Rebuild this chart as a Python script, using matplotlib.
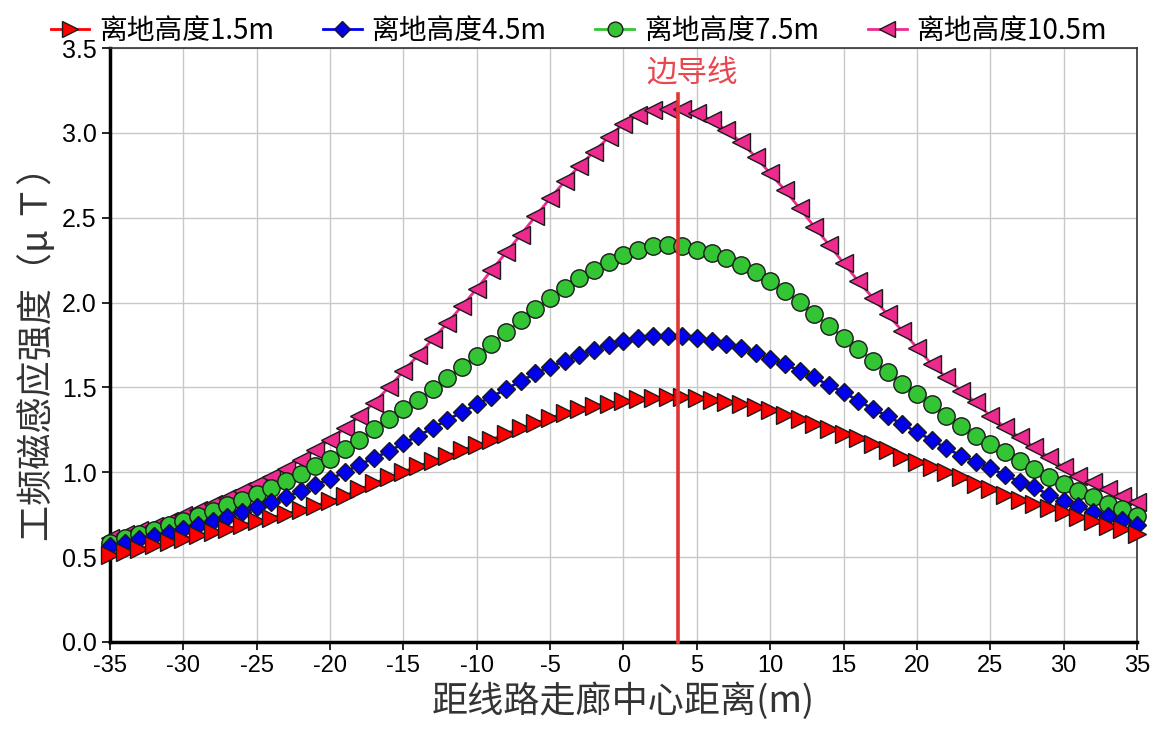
import matplotlib
matplotlib.use("Agg")
import matplotlib.pyplot as plt
import numpy as np

# ---------------- data ----------------
x_m = list(range(-35, 36))

h15 = [0.515, 0.532, 0.550, 0.569, 0.589, 0.609, 0.628, 0.648, 0.667, 0.688,
       0.710, 0.732, 0.755, 0.778, 0.803, 0.830, 0.860, 0.900, 0.935, 0.970,
       1.004, 1.036, 1.066, 1.098, 1.130, 1.160, 1.192, 1.228, 1.258, 1.290,
       1.320, 1.348, 1.373, 1.392, 1.405, 1.420, 1.432, 1.440, 1.443, 1.442,
       1.435, 1.425, 1.415, 1.403, 1.385, 1.365, 1.340, 1.312, 1.283, 1.255,
       1.228, 1.200, 1.165, 1.130, 1.090, 1.059, 1.029, 1.000, 0.971, 0.931,
       0.902, 0.867, 0.839, 0.814, 0.788, 0.765, 0.735, 0.710, 0.686, 0.667,
       0.637]

h45 = [0.565, 0.585, 0.605, 0.625, 0.645, 0.665, 0.688, 0.712, 0.738, 0.765,
       0.793, 0.823, 0.855, 0.889, 0.924, 0.961, 1.000, 1.045, 1.084, 1.123,
       1.170, 1.215, 1.260, 1.309, 1.355, 1.400, 1.445, 1.490, 1.537, 1.582,
       1.621, 1.658, 1.690, 1.722, 1.752, 1.772, 1.793, 1.803, 1.805, 1.803,
       1.793, 1.774, 1.754, 1.735, 1.705, 1.670, 1.637, 1.598, 1.559, 1.512,
       1.471, 1.422, 1.373, 1.330, 1.284, 1.235, 1.192, 1.141, 1.098, 1.063,
       1.024, 0.984, 0.945, 0.912, 0.867, 0.833, 0.800, 0.765, 0.742, 0.716,
       0.690]

h75 = [0.585, 0.610, 0.635, 0.660, 0.687, 0.714, 0.743, 0.773, 0.805, 0.838,
       0.873, 0.910, 0.950, 0.990, 1.035, 1.080, 1.135, 1.191, 1.254, 1.313,
       1.370, 1.428, 1.490, 1.553, 1.620, 1.688, 1.757, 1.826, 1.895, 1.962,
       2.025, 2.085, 2.142, 2.192, 2.237, 2.280, 2.312, 2.331, 2.337, 2.331,
       2.312, 2.292, 2.263, 2.224, 2.179, 2.126, 2.067, 2.003, 1.930, 1.862,
       1.794, 1.729, 1.656, 1.593, 1.520, 1.461, 1.402, 1.333, 1.275, 1.216,
       1.167, 1.118, 1.065, 1.020, 0.971, 0.931, 0.892, 0.853, 0.814, 0.784,
       0.745]

h105 = [0.610, 0.635, 0.660, 0.686, 0.713, 0.748, 0.780, 0.813, 0.848, 0.887,
        0.928, 0.972, 1.020, 1.072, 1.130, 1.192, 1.258, 1.330, 1.410, 1.500,
        1.595, 1.690, 1.785, 1.880, 1.980, 2.082, 2.190, 2.295, 2.400, 2.508,
        2.615, 2.714, 2.805, 2.890, 2.975, 3.055, 3.104, 3.133, 3.143, 3.143,
        3.119, 3.074, 3.016, 2.947, 2.859, 2.761, 2.663, 2.556, 2.448, 2.341,
        2.233, 2.126, 2.028, 1.930, 1.833, 1.735, 1.637, 1.559, 1.480, 1.412,
        1.333, 1.265, 1.206, 1.147, 1.088, 1.029, 0.980, 0.941, 0.902, 0.863,
        0.824]

labels = ["离地高度1.5m", "离地高度4.5m", "离地高度7.5m", "离地高度10.5m"]
x_ticks = [-35, -30, -25, -20, -15, -10, -5, 0, 5, 10, 15, 20, 25, 30, 35]
y_ticks = [0.0, 0.5, 1.0, 1.5, 2.0, 2.5, 3.0, 3.5]
side_conductor_x = 3.7
side_conductor_top = 3.23
side_label = "边导线"
x_label = "距线路走廊中心距离(m)"
y_label = "工频磁感应强度（μ Ｔ）"

# ---------------- style ----------------
CJK = ["Noto Sans CJK SC", "DejaVu Sans"]
plt.rcParams["font.family"] = CJK

fig = plt.figure(figsize=(11.64, 7.33), dpi=100)
ax = fig.add_axes([0.0945, 0.1242, 0.8823, 0.8103])

series = [
    (h15, "#ff0000", ">", 13, labels[0]),
    (h45, "#0000ee", "D", 9.5, labels[1]),
    (h75, "#33c533", "o", 12.5, labels[2]),
    (h105, "#ee2a8f", "<", 13, labels[3]),
]
handles = {}
z = {labels[3]: 3, labels[2]: 4, labels[1]: 5, labels[0]: 6}
for ys, col, mk, ms, lab in series:
    ln, = ax.plot(x_m, ys, color=col, lw=2.0, marker=mk, ms=ms,
                  markerfacecolor=col, markeredgecolor="#1a1a1a",
                  markeredgewidth=1.0, label=lab, zorder=z[lab], clip_on=False)
    handles[lab] = ln

ax.plot([side_conductor_x, side_conductor_x], [0, side_conductor_top],
        color="#e03535", lw=2.6, zorder=7, clip_on=False)
ax.text(side_conductor_x + 0.95, 3.355, side_label, color="#e8474f",
        fontsize=22, ha="center", va="center", family=CJK)

ax.set_xlim(-35, 35)
ax.set_ylim(0, 3.5)
ax.set_xticks(x_ticks)
ax.set_yticks(y_ticks)
ax.set_xticklabels([str(v) for v in x_ticks], family="Liberation Sans", fontsize=17)
ax.set_yticklabels([f"{v:.1f}" for v in y_ticks], family="Liberation Sans", fontsize=18)
ax.grid(True, color="#c8c8c8", lw=1.0)
ax.set_axisbelow(True)

for s in ["left", "bottom"]:
    ax.spines[s].set_linewidth(2.5)
    ax.spines[s].set_color("black")
for s in ["top", "right"]:
    ax.spines[s].set_linewidth(1.2)
    ax.spines[s].set_color("#333333")
ax.tick_params(axis="both", direction="out", length=6, width=1.2, colors="black")

ax.set_xlabel(x_label, fontsize=26, family=CJK, color="#333333", labelpad=4)
ax.set_ylabel(y_label, fontsize=26, family=CJK, color="#333333", labelpad=4)

order = labels
fig.legend([handles[l] for l in order], order, loc="upper left",
           bbox_to_anchor=(0.022, 1.012), ncol=4, frameon=False,
           fontsize=20, handlelength=1.4, columnspacing=1.75, handletextpad=0.35,
           markerscale=0.85)

fig.savefig("out.png", dpi=100)
